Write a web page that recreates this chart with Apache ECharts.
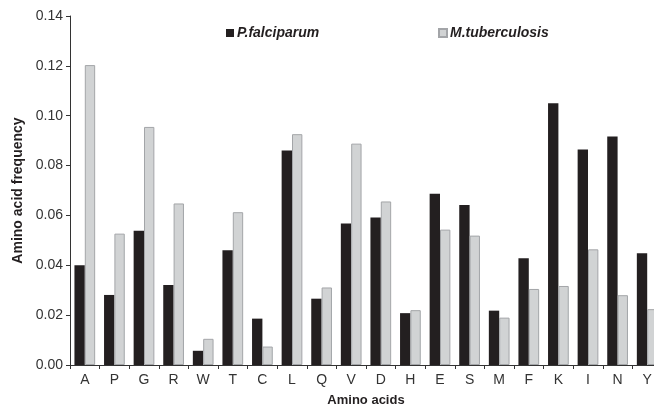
<!DOCTYPE html>
<html>
<head>
<meta charset="utf-8">
<script src="https://cdn.jsdelivr.net/npm/echarts@6/dist/echarts.min.js"></script>
<style>html,body{margin:0;padding:0;background:#fff;overflow:hidden}#c{width:662px;height:412px}</style>
</head>
<body>
<div id="c"></div>
<script>
const categories = ['A','P','G','R','W','T','C','L','Q','V','D','H','E','S','M','F','K','I','N','Y'];
const pFalciparum = [0.040,0.0281,0.0539,0.0321,0.0057,0.046,0.0186,0.086,0.0266,0.0568,0.0592,0.0208,0.0687,0.0642,0.0218,0.0428,0.105,0.0864,0.0917,0.0448];
const mTuberculosis = [0.1203,0.0527,0.0955,0.0648,0.0105,0.0613,0.0074,0.0926,0.0311,0.0888,0.0656,0.022,0.0543,0.0519,0.019,0.0305,0.0317,0.0464,0.028,0.0224];
const yTicks = [0,0.02,0.04,0.06,0.08,0.10,0.12,0.14];

const font = 'Liberation Sans, Arial, sans-serif';
const chart = echarts.init(document.getElementById('c'), null, {renderer:'canvas'});
chart.setOption({
  animation:false,
  backgroundColor:'#fff',
  textStyle:{fontFamily:font},
  grid:{left:70, top:16, bottom:43, right:0, containLabel:false},
  legend:[{
    data:[{name:'P.falciparum', icon:'rect'}], left:226, top:26, padding:0, itemWidth:8, itemHeight:8, itemGap:4,
    textStyle:{fontFamily:font, fontSize:14, fontWeight:'bold', fontStyle:'italic', color:'#231f20', padding:[0,0,0,-2]}
  },{
    data:[{name:'M.tuberculosis', icon:'rect'}], left:438, top:26, padding:0, itemWidth:8, itemHeight:8, itemGap:4,
    textStyle:{fontFamily:font, fontSize:14, fontWeight:'bold', fontStyle:'italic', color:'#231f20', padding:[0,0,0,-2]}
  }],
  xAxis:{
    type:'category', data:categories,
    name:'Amino acids', nameLocation:'middle', nameGap:29,
    nameTextStyle:{fontFamily:font, fontSize:13, fontWeight:'bold', color:'#231f20'},
    axisLine:{lineStyle:{color:'#333', width:1}},
    axisTick:{show:true, length:4, lineStyle:{color:'#333'}},
    axisLabel:{fontFamily:font, fontSize:14, color:'#333', margin:8}
  },
  yAxis:{
    type:'value', min:0, max:0.14, interval:0.02,
    name:'Amino acid frequency', nameLocation:'middle', nameGap:45, nameRotate:90,
    nameTextStyle:{fontFamily:font, fontSize:14, fontWeight:'bold', color:'#231f20'},
    axisLine:{show:true, lineStyle:{color:'#333', width:1}},
    axisTick:{show:true, length:4, inside:false, lineStyle:{color:'#333'}},
    splitLine:{show:false},
    axisLabel:{fontFamily:font, fontSize:14, color:'#333', margin:7,
      formatter:v=>{const t=yTicks.find(x=>Math.abs(x-v)<1e-9); return (t!==undefined?t:v).toFixed(2);}}
  },
  series:[{
    name:'P.falciparum', type:'bar', data:pFalciparum, barGap:'0%', barCategoryGap:'30%',
    itemStyle:{color:'#231f20', borderColor:'#231f20', borderWidth:0}
  },{
    name:'M.tuberculosis', type:'bar', data:mTuberculosis, barGap:'0%', barCategoryGap:'30%',
    itemStyle:{color:'#d1d3d4', borderColor:'#a3a5a8', borderWidth:1}
  }]
});
</script>
</body>
</html>
